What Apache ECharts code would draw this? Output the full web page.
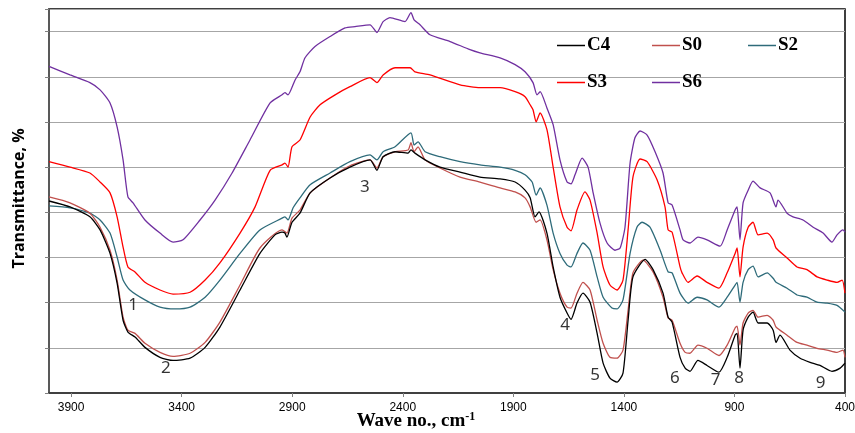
<!DOCTYPE html>
<html lang="en">

<head>
  <meta charset="UTF-8">
  <title>FTIR spectra</title>
  <script src="https://cdn.jsdelivr.net/npm/echarts@6/dist/echarts.min.js"></script>
</head>

<body style="margin:0">
  <div id="chart" style="width: 855px;height: 433px;"></div>
  <script>
    // wave number (cm-1) / transmittance pairs
    const C4 = [
      [4000, 42.5], [3905, 41.2], [3815, 39.0], [3769, 36.1], [3724, 30.9], [3692, 24.3], [3665, 16.1], [3643, 13.5],
      [3611, 12.4], [3566, 10.1], [3498, 7.9], [3439, 7.2], [3362, 7.7], [3294, 10.1], [3227, 14.6], [3136, 22.8],
      [3046, 30.9], [2978, 35.0], [2946, 35.6], [2933, 35.4], [2924, 34.5], [2901, 37.8], [2865, 39.8], [2819, 44.3],
      [2729, 47.6], [2639, 50.0], [2548, 51.6], [2517, 49.3], [2489, 52.3], [2435, 53.4], [2376, 53.1], [2363, 53.8],
      [2345, 53.1], [2299, 51.6], [2232, 50.0], [2141, 48.9], [2051, 47.8], [1960, 47.4], [1892, 46.7], [1847, 44.9],
      [1824, 43.2], [1802, 39.0], [1784, 40.1], [1748, 35.4], [1720, 27.9], [1689, 21.2], [1657, 17.7], [1639, 16.3],
      [1612, 19.9], [1585, 22.1], [1553, 20.1], [1521, 13.2], [1494, 6.6], [1463, 3.3], [1431, 2.4], [1404, 4.4],
      [1381, 16.1], [1359, 25.7], [1304, 29.6], [1268, 27.3], [1223, 22.1], [1200, 16.8], [1182, 15.7], [1146, 7.9],
      [1123, 5.5], [1101, 4.8], [1065, 7.2], [1024, 6.1], [970, 4.6], [933, 7.9], [897, 12.8], [888, 13.2],
      [875, 5.5], [861, 13.9], [838, 16.8], [816, 17.9], [793, 15.5], [752, 15.5], [725, 13.9], [712, 11.2],
      [694, 12.8], [649, 9.5], [603, 7.7], [558, 6.8], [513, 6.1], [459, 4.8], [422, 5.5], [400, 6.6]
    ]
    const S0 = [
      [4000, 43.4], [3905, 42.1], [3815, 39.8], [3769, 36.7], [3724, 31.6], [3692, 25.0], [3665, 16.8], [3643, 13.9],
      [3611, 13.2], [3566, 11.0], [3498, 9.0], [3439, 8.1], [3362, 8.8], [3294, 11.2], [3227, 15.7], [3136, 23.9],
      [3046, 32.1], [2946, 36.1], [2924, 35.4], [2901, 38.7], [2865, 40.5], [2819, 44.3], [2729, 47.6], [2639, 50.3],
      [2548, 51.6], [2517, 49.8], [2489, 52.3], [2435, 53.4], [2376, 53.8], [2363, 55.4], [2349, 53.4], [2331, 54.5],
      [2299, 51.6], [2232, 49.8], [2141, 47.8], [2051, 46.7], [1960, 45.4], [1892, 44.5], [1847, 43.2], [1824, 41.2],
      [1797, 37.8], [1779, 38.3], [1748, 33.9], [1720, 27.3], [1689, 22.1], [1657, 19.0], [1639, 18.8], [1612, 22.1],
      [1585, 24.5], [1553, 22.8], [1521, 16.1], [1494, 11.0], [1463, 7.9], [1431, 7.7], [1404, 9.5], [1381, 18.3],
      [1359, 26.6], [1313, 29.4], [1268, 26.8], [1223, 21.2], [1200, 16.6], [1182, 16.1], [1146, 11.0], [1123, 9.0],
      [1101, 8.8], [1065, 10.6], [1024, 9.9], [970, 8.3], [933, 10.6], [897, 14.4], [888, 14.8], [875, 10.6],
      [861, 15.5], [838, 17.7], [816, 18.3], [793, 16.8], [752, 17.2], [725, 16.1], [712, 14.6], [662, 12.8],
      [617, 11.2], [572, 10.6], [526, 9.9], [481, 9.5], [436, 9.0], [409, 9.5], [400, 7.9]
    ]
    const S2 = [
      [4000, 41.4], [3905, 41.0], [3815, 39.8], [3769, 38.3], [3724, 35.4], [3692, 30.1], [3665, 25.0], [3634, 22.8],
      [3566, 20.6], [3498, 19.0], [3430, 18.6], [3362, 19.0], [3294, 21.2], [3227, 25.0], [3136, 30.9], [3046, 36.1],
      [2946, 38.7], [2933, 39.0], [2919, 38.3], [2896, 41.0], [2865, 43.2], [2819, 46.1], [2729, 48.7], [2639, 51.2],
      [2548, 52.7], [2517, 51.6], [2489, 53.4], [2435, 54.5], [2363, 57.6], [2349, 54.9], [2331, 55.6], [2299, 53.4],
      [2232, 52.3], [2141, 51.2], [2051, 50.5], [1960, 50.0], [1892, 49.3], [1847, 48.3], [1815, 46.7], [1797, 43.8],
      [1779, 45.4], [1748, 41.6], [1720, 35.4], [1689, 30.9], [1657, 28.3], [1639, 27.9], [1612, 30.9], [1585, 33.2],
      [1553, 31.6], [1521, 25.7], [1494, 21.2], [1454, 18.8], [1431, 18.6], [1404, 20.6], [1372, 30.9], [1341, 36.7],
      [1318, 37.8], [1282, 36.7], [1236, 31.6], [1200, 26.8], [1182, 26.6], [1146, 22.1], [1110, 19.9], [1069, 21.2],
      [1024, 20.6], [970, 19.0], [933, 21.2], [897, 23.9], [888, 24.5], [875, 20.1], [861, 24.5], [838, 27.3],
      [816, 28.1], [793, 25.7], [752, 26.6], [725, 25.4], [712, 24.5], [662, 23.2], [617, 21.7], [572, 21.2],
      [526, 20.1], [481, 19.9], [436, 19.4], [400, 17.9]
    ]
    const S3 = [
      [4000, 51.2], [3905, 50.0], [3815, 48.7], [3769, 46.7], [3724, 44.3], [3692, 39.0], [3665, 32.3], [3643, 27.9],
      [3611, 26.8], [3566, 24.5], [3498, 22.8], [3439, 21.9], [3362, 22.3], [3294, 25.0], [3227, 28.8], [3136, 35.4],
      [3068, 41.2], [3000, 49.3], [2946, 50.5], [2933, 50.9], [2919, 50.0], [2901, 54.5], [2865, 56.0], [2819, 61.1],
      [2774, 63.8], [2706, 66.0], [2639, 67.8], [2548, 69.8], [2517, 68.7], [2489, 70.4], [2435, 72.0], [2367, 72.0],
      [2345, 71.1], [2277, 70.4], [2141, 68.2], [2051, 67.6], [1960, 67.6], [1892, 66.7], [1847, 65.6], [1824, 63.8],
      [1811, 62.7], [1797, 60.0], [1779, 62.0], [1748, 58.3], [1720, 50.0], [1689, 41.2], [1657, 36.7], [1639, 35.9],
      [1612, 40.5], [1576, 44.5], [1553, 42.7], [1521, 35.4], [1494, 27.9], [1463, 23.9], [1431, 22.8], [1404, 25.0],
      [1381, 36.1], [1359, 47.8], [1327, 51.8], [1295, 51.2], [1250, 47.2], [1214, 41.2], [1200, 36.1], [1182, 35.6],
      [1146, 27.9], [1137, 26.6], [1110, 24.5], [1069, 25.9], [1024, 24.5], [970, 23.2], [933, 26.6], [897, 30.9],
      [888, 32.1], [875, 25.7], [861, 32.3], [838, 36.7], [816, 37.8], [793, 35.0], [752, 35.4], [725, 33.9],
      [712, 32.1], [662, 29.9], [617, 27.9], [572, 27.3], [526, 25.7], [481, 25.0], [436, 24.5], [413, 25.0], [400, 22.1]
    ]
    const S6 = [
      [4000, 72.3], [3905, 70.4], [3815, 68.7], [3769, 67.1], [3724, 64.2], [3692, 58.9], [3665, 51.6], [3643, 43.4],
      [3620, 42.1], [3566, 38.3], [3498, 35.4], [3439, 33.4], [3394, 33.9], [3317, 38.3], [3249, 42.7], [3172, 48.7],
      [3091, 56.0], [3000, 64.2], [2946, 66.0], [2933, 66.5], [2919, 66.0], [2887, 69.3], [2865, 71.1], [2842, 74.2],
      [2797, 76.7], [2729, 78.9], [2661, 80.8], [2616, 81.1], [2548, 81.5], [2517, 79.8], [2489, 82.2], [2458, 83.1],
      [2390, 82.2], [2363, 84.2], [2349, 82.6], [2322, 81.5], [2277, 79.3], [2186, 77.8], [2096, 76.0], [2051, 75.3],
      [1960, 74.2], [1892, 72.7], [1847, 71.1], [1811, 68.7], [1793, 66.0], [1779, 66.7], [1748, 63.1], [1720, 59.4],
      [1689, 51.6], [1657, 46.7], [1639, 46.3], [1621, 48.3], [1589, 52.0], [1562, 50.0], [1539, 44.3], [1508, 37.6],
      [1476, 33.2], [1440, 31.6], [1417, 32.1], [1395, 36.7], [1372, 50.9], [1350, 56.5], [1327, 58.0], [1295, 57.1],
      [1259, 53.4], [1223, 48.7], [1200, 42.1], [1182, 41.6], [1146, 36.1], [1132, 33.9], [1101, 33.2], [1065, 34.5],
      [1024, 33.9], [965, 32.5], [933, 36.1], [897, 40.5], [888, 41.2], [875, 33.9], [861, 42.1], [838, 44.9],
      [816, 46.9], [784, 45.4], [739, 44.3], [712, 41.2], [703, 42.7], [662, 39.8], [635, 39.0], [590, 38.3],
      [544, 36.7], [499, 35.4], [459, 33.4], [436, 35.0], [409, 36.1], [400, 35.6]
    ]
    // band numbers: [wave no., transmittance, label]
    const bands = [
      [3620, 19.4, '1'], [3471, 5.5, '2'], [2571, 45.6, '3'], [1666, 15.0, '4'], [1530, 3.9, '5'],
      [1169, 3.3, '6'], [985, 2.9, '7'], [879, 3.3, '8'], [510, 2.2, '9']
    ]
    const xTicks = [400, 900, 1400, 1900, 2400, 2900, 3400, 3900]

    const names = ['C4', 'S0', 'S2', 'S3', 'S6']
    const colors = ['#000000', '#c0504d', '#2e6b7a', '#ff0000', '#7030a0']
    const spectra = [C4, S0, S2, S3, S6]
    // legend slots (px): two rows of three columns
    const legendPos = [[557, 36], [652, 36], [748, 36], [557, 73], [652, 73]]

    const myEcharts = echarts.init(document.getElementById('chart'))

    const option = {
      animation: false,
      grid: {
        left: 49, right: 10, top: 9, bottom: 40,
        outerBoundsMode: 'none',
        show: true, borderColor: '#000', borderWidth: 1.5
      },
      legend: names.map((n, i) => ({
        data: [n],
        left: legendPos[i][0],
        top: legendPos[i][1],
        icon: 'rect',
        itemWidth: 28,
        itemHeight: 1.5,
        itemGap: 0,
        padding: 0,
        textStyle: { fontFamily: 'Liberation Serif', fontWeight: 'bold', fontSize: 19, color: '#000', padding: [0, 0, 0, -3] }
      })),
      xAxis: {
        type: 'value',
        inverse: true,
        min: 400,
        max: 4000,
        name: 'Wave no., cm{sup|-1}',
        nameLocation: 'middle',
        nameGap: 18,
        nameMoveOverlap: false,
        nameTextStyle: {
          fontFamily: 'Liberation Serif', fontWeight: 'bold', fontSize: 19, color: '#000',
          padding: [0, 62, 0, 0],
          rich: { sup: { fontFamily: 'Liberation Serif', fontWeight: 'bold', fontSize: 12, color: '#000', verticalAlign: 'top', padding: [0, 0, 8, 0] } }
        },
        axisLine: { lineStyle: { color: '#404040', width: 2 } },
        axisTick: { customValues: xTicks, length: 4, lineStyle: { color: '#808080' } },
        axisLabel: {
          customValues: xTicks, margin: 9, fontSize: 12, color: '#000',
          fontFamily: 'Liberation Sans',
          formatter: v => String(v)
        },
        splitLine: { show: false }
      },
      yAxis: {
        type: 'value',
        min: 0,
        max: 85,
        interval: 10,
        name: 'Transmittance, %',
        nameLocation: 'middle',
        nameGap: 22,
        nameTextStyle: { fontFamily: 'Open Sans', fontWeight: 'bold', fontSize: 16, color: '#000', padding: [0, 0, 0, 5] },
        axisLine: { show: true, lineStyle: { color: '#595959', width: 2 } },
        axisTick: { show: true, length: 4, lineStyle: { color: '#808080' } },
        axisLabel: { show: false },
        splitLine: { lineStyle: { color: '#a6a6a6', width: 1 } }
      },
      series: spectra.map((d, i) => ({
        name: names[i],
        type: 'line',
        data: d,
        symbol: 'none',
        smooth: 0.2,
        color: colors[i],
        lineStyle: { width: 1.3, color: colors[i] },
        z: 5 - i
      })).concat([{
        type: 'scatter',
        data: bands,
        symbolSize: 1,
        itemStyle: { color: 'rgba(0,0,0,0)' },
        silent: true,
        label: {
          show: true,
          position: 'inside',
          formatter: p => p.value[2],
          fontFamily: 'Noto Sans',
          fontSize: 17,
          color: '#000'
        },
        z: 10
      }])
    }

    myEcharts.setOption(option)
  </script>
</body>

</html>
